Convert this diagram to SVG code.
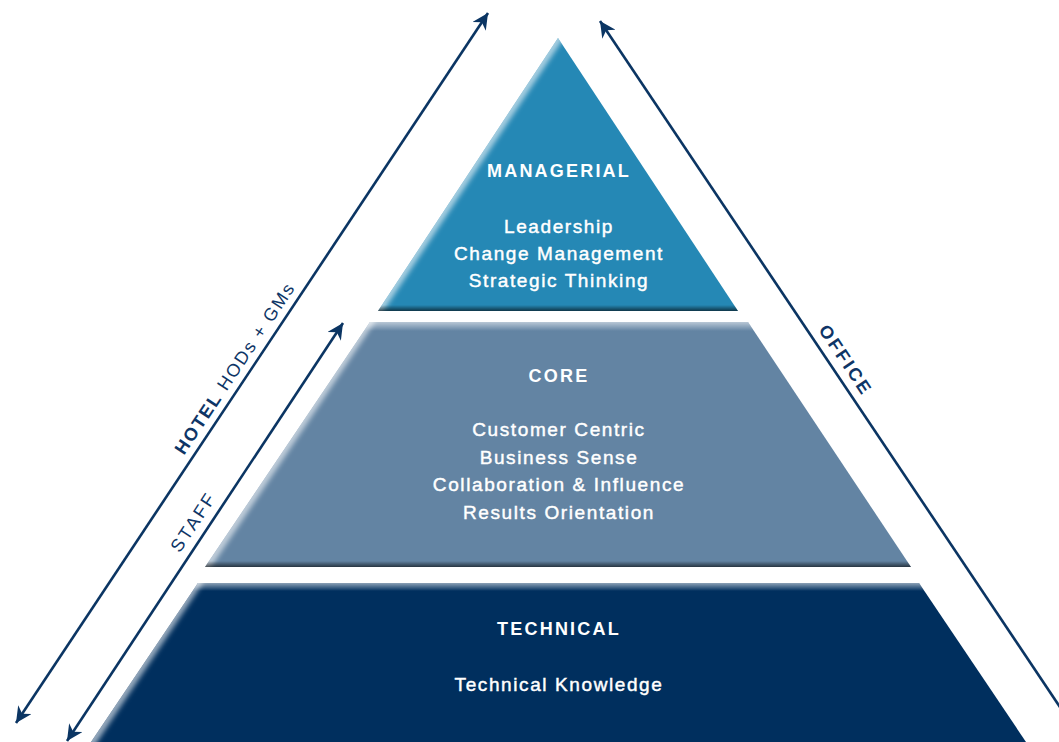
<svg xmlns="http://www.w3.org/2000/svg" width="1059" height="742" viewBox="0 0 1059 742">
<style>
.title{font-family:"Liberation Sans",Arial,sans-serif;font-weight:bold;font-size:18px;fill:#fff;letter-spacing:2.2px;text-anchor:middle}
.item{font-family:"Liberation Sans",Arial,sans-serif;font-size:19px;fill:#fff;stroke:#fff;stroke-width:0.45;letter-spacing:1.6px;text-anchor:middle}
.conn{stroke:#0b3563;stroke-width:2.6;fill:none}
.lbl{font-family:"Liberation Sans",Arial,sans-serif;font-size:18px;fill:#0e3566;text-anchor:middle}
.edge{stroke:#fff;stroke-opacity:0.6;stroke-width:9;fill:none;filter:url(#blur)}
</style>
<defs>
<filter id="blur" x="-20%" y="-20%" width="140%" height="140%"><feGaussianBlur stdDeviation="2.5"/></filter>
<marker id="ah" viewBox="0 0 10 10" refX="10" refY="5" markerUnits="userSpaceOnUse" markerWidth="18" markerHeight="16" orient="auto-start-reverse">
<path d="M0,0 L10,5 L0,10 L3,5 z" fill="#0b3563"/>
</marker>
<linearGradient id="topLight" x1="0" y1="0" x2="0" y2="1"><stop offset="0" stop-color="#fff" stop-opacity="0.55"/><stop offset="1" stop-color="#fff" stop-opacity="0"/></linearGradient>
<linearGradient id="botDark" x1="0" y1="0" x2="0" y2="1"><stop offset="0" stop-color="#000" stop-opacity="0"/><stop offset="1" stop-color="#000" stop-opacity="0.6"/></linearGradient>
<clipPath id="cTop"><polygon points="558,38 738,311 378,311"/></clipPath>
<clipPath id="cMid"><polygon points="370,322 748,322 911,567 205,567"/></clipPath>
<clipPath id="cBot"><polygon points="198,583 919,583 1026,742 91,742"/></clipPath>
</defs>
<rect width="1059" height="742" fill="#fff"/>

<g id="connectors">
<line class="conn" x1="16" y1="723" x2="488" y2="13" marker-start="url(#ah)" marker-end="url(#ah)"/>
<line class="conn" x1="67" y1="741" x2="343" y2="323" marker-start="url(#ah)" marker-end="url(#ah)"/>
<line class="conn" x1="600" y1="21" x2="1064" y2="713" marker-start="url(#ah)"/>
</g>

<g id="label-hotel" transform="translate(246.7,376) rotate(-56.4)">
<text class="lbl" x="0" y="-8" letter-spacing="1.8"><tspan font-weight="bold">HOTEL</tspan> HODs + GMs</text>
</g>
<g id="label-staff" transform="translate(206,530.3) rotate(-56.5)">
<text class="lbl" x="0" y="-9" font-size="17" letter-spacing="2.4">STAFF</text>
</g>
<g id="label-office" transform="translate(833.1,368.6) rotate(56.1)">
<text class="lbl" x="0" y="-9" font-weight="bold" letter-spacing="2.5">OFFICE</text>
</g>

<g id="managerial">
<polygon points="558,38 738,311 378,311" fill="#2588b5"/>
<g clip-path="url(#cTop)">
<line class="edge" x1="561" y1="34" x2="376" y2="314"/>
<rect x="370" y="305" width="380" height="6" fill="url(#botDark)"/>
</g>
<text class="title" x="559" y="177">MANAGERIAL</text>
<text class="item" x="559" y="233">Leadership</text>
<text class="item" x="559" y="260">Change Management</text>
<text class="item" x="559" y="287">Strategic Thinking</text>
</g>

<g id="core">
<polygon points="370,322 748,322 911,567 205,567" fill="#6384a3"/>
<g clip-path="url(#cMid)">
<line class="edge" x1="372" y1="318" x2="203" y2="571"/>
<rect x="200" y="322" width="720" height="9" fill="url(#topLight)"/>
<rect x="200" y="561" width="720" height="6" fill="url(#botDark)"/>
</g>
<text class="title" x="559" y="382">CORE</text>
<text class="item" x="559" y="436">Customer Centric</text>
<text class="item" x="559" y="464">Business Sense</text>
<text class="item" x="559" y="491">Collaboration &amp; Influence</text>
<text class="item" x="559" y="519">Results Orientation</text>
</g>

<g id="technical">
<polygon points="198,583 919,583 1026,742 91,742" fill="#002f5e"/>
<g clip-path="url(#cBot)">
<line class="edge" x1="200" y1="579" x2="89" y2="746"/>
<rect x="90" y="583" width="940" height="8" fill="url(#topLight)"/>
</g>
<text class="title" x="559" y="635">TECHNICAL</text>
<text class="item" x="559" y="691">Technical Knowledge</text>
</g>
</svg>
